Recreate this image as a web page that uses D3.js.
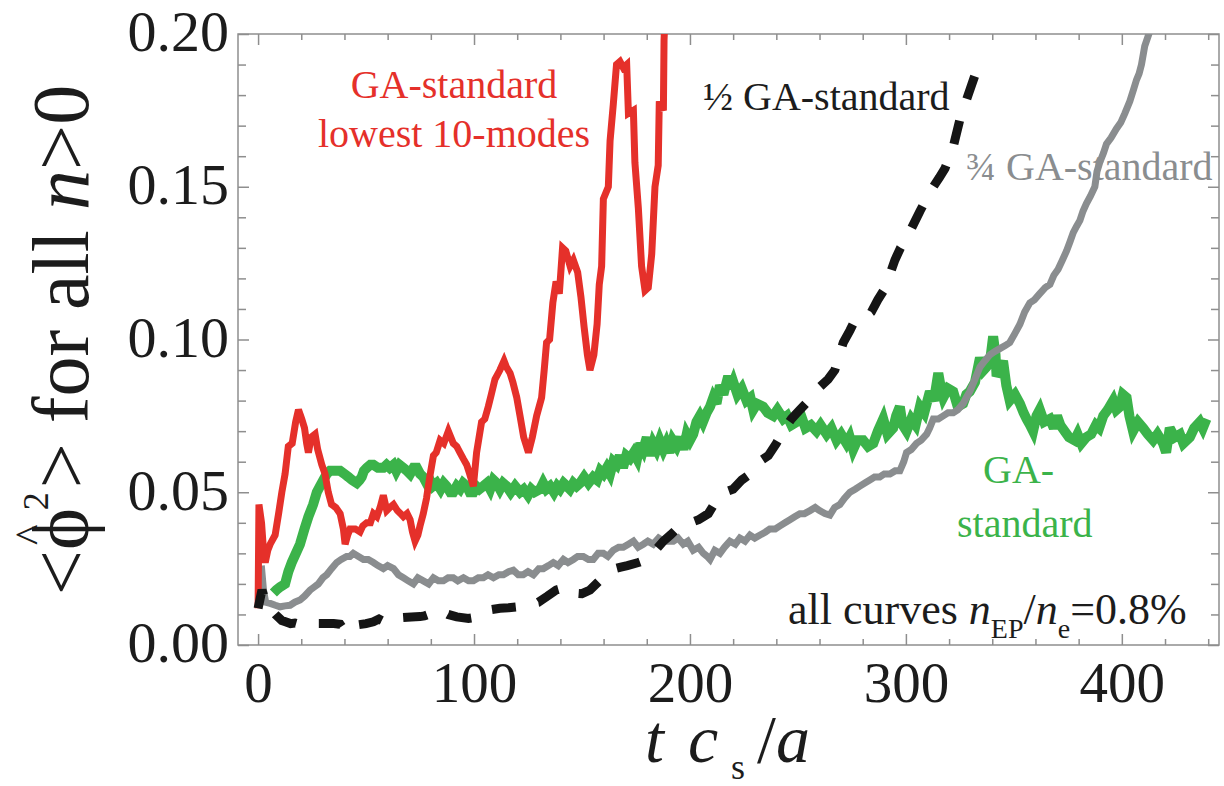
<!DOCTYPE html>
<html>
<head>
<meta charset="utf-8">
<script src="https://cdn.jsdelivr.net/npm/d3@7"></script>
<style>
  html, body { margin: 0; padding: 0; background: #ffffff; }
  svg { display: block; }
  text { font-family: "Liberation Serif", "Times New Roman", serif; }
</style>
</head>
<body>
<svg id="chart" width="1224" height="786"></svg>
<script>
// Time axis (t c_s/a) and amplitude axis (<phi^2>) tick values
const xMajorTicks = [0, 100, 200, 300, 400];
const yMajorTicks = [0, 0.05, 0.10, 0.15, 0.20];

// GA-standard, lowest 10 modes only  [t, <phi^2>]
const redCurve = [
  [0, 0.012], [0.4, 0.046], [1.6, 0.040], [2.6, 0.030], [3.3, 0.027], [4.5, 0.031], [5.6, 0.033],
  [7.9, 0.036], [9.5, 0.043], [11, 0.050], [12.5, 0.056], [14, 0.065], [15.8, 0.066], [17.4, 0.073],
  [18.7, 0.077], [20.2, 0.074], [21.5, 0.071], [22.5, 0.066], [23.3, 0.063], [24.6, 0.068], [26.4, 0.069],
  [27.6, 0.064], [29.5, 0.059], [31, 0.056], [32.5, 0.050], [34, 0.046], [36, 0.045], [38, 0.043],
  [39.5, 0.038], [40.3, 0.033], [41.5, 0.036], [42.6, 0.038], [45, 0.038], [47.2, 0.037], [48.5, 0.039],
  [50.3, 0.040], [52, 0.040], [53.4, 0.043], [55, 0.042], [56.5, 0.045], [58, 0.049], [59.6, 0.044],
  [61, 0.045], [62.7, 0.046], [64.5, 0.044], [66, 0.043], [67.3, 0.042], [69, 0.043], [70.4, 0.041],
  [71.5, 0.037], [72.7, 0.034], [74, 0.036], [75, 0.039], [76.5, 0.043], [78, 0.048], [79.5, 0.055],
  [81.2, 0.062], [82.5, 0.063], [84.3, 0.067], [86, 0.066], [88.1, 0.070], [90.4, 0.066], [92, 0.065],
  [93.5, 0.063], [95, 0.061], [96.6, 0.059], [98, 0.056], [99.7, 0.052], [101.2, 0.063], [103.5, 0.073],
  [105, 0.074], [106.6, 0.078], [108, 0.082], [109.7, 0.087], [112, 0.090], [113.9, 0.093], [115, 0.091],
  [116.7, 0.089], [118, 0.086], [119.8, 0.081], [121.3, 0.075], [123, 0.068], [125.2, 0.063], [127, 0.068],
  [129, 0.075], [131.3, 0.081], [132.5, 0.090], [133.6, 0.099], [135, 0.100], [136.5, 0.112], [138, 0.119],
  [139.5, 0.115], [141, 0.130], [142.5, 0.129], [144.5, 0.124], [146, 0.126], [148, 0.122], [149.5, 0.114],
  [151, 0.104], [152.5, 0.095], [153.7, 0.090], [155.5, 0.095], [157, 0.105], [158, 0.118], [159.1, 0.124],
  [159.9, 0.146], [162.2, 0.150], [163, 0.165], [164.5, 0.177], [166, 0.190], [167.6, 0.191], [169.1, 0.189],
  [170.7, 0.190], [171.5, 0.174], [173.8, 0.175], [174.5, 0.158], [176.1, 0.143], [177.6, 0.124], [179.2, 0.116],
  [180.7, 0.117], [182.3, 0.128], [183.8, 0.150], [185.3, 0.157], [185.8, 0.178], [187.7, 0.175], [188, 0.198],
  [189, 0.215]
];

// GA-standard, all modes
const greenCurve = [
  [7.1, 0.017], [8.5, 0.018], [10.2, 0.019], [12.5, 0.020], [14, 0.024], [15.6, 0.027], [17.5, 0.030],
  [19.4, 0.033], [21.5, 0.038], [23.3, 0.042], [25.5, 0.046], [27.2, 0.050], [28.7, 0.052], [30.2, 0.054],
  [31.8, 0.056], [33.3, 0.057], [35.5, 0.057], [38, 0.057], [40, 0.056], [41.8, 0.055], [43.5, 0.054],
  [45.7, 0.053], [47, 0.054], [48, 0.055], [49, 0.057], [50.3, 0.058], [52, 0.059], [53.4, 0.059],
  [55.5, 0.058], [58, 0.058], [59.5, 0.059], [61, 0.058], [62.7, 0.059], [64, 0.057], [65.5, 0.059],
  [67.3, 0.058], [69, 0.057], [70.4, 0.056], [72, 0.058], [73.5, 0.058], [75, 0.056], [76.5, 0.055],
  [78, 0.053], [79.6, 0.054], [81, 0.052], [82.7, 0.053], [84.5, 0.051], [86, 0.053], [87.3, 0.052],
  [89, 0.050], [90.4, 0.050], [92, 0.052], [93.5, 0.051], [95, 0.053], [96.6, 0.052], [98, 0.050],
  [99.7, 0.050], [101, 0.052], [102.5, 0.051], [104.3, 0.052], [106, 0.053], [107.5, 0.051], [109, 0.054],
  [110.5, 0.053], [112, 0.051], [113.5, 0.053], [115.1, 0.052], [117, 0.050], [119, 0.052], [121.3, 0.050],
  [123, 0.051], [125, 0.049], [126.5, 0.051], [128, 0.050], [130.6, 0.051], [132, 0.053], [133.5, 0.051],
  [135.2, 0.052], [137, 0.050], [138.5, 0.052], [139.8, 0.051], [141.5, 0.053], [143, 0.052], [144.4, 0.051],
  [146, 0.053], [147.5, 0.052], [149.1, 0.053], [151, 0.055], [153, 0.053], [155.2, 0.055], [157, 0.054],
  [158.5, 0.057], [159.9, 0.056], [161.5, 0.058], [163, 0.056], [164.5, 0.060], [166, 0.059], [167.5, 0.062],
  [169, 0.058], [170.5, 0.062], [172.2, 0.061], [174, 0.063], [175.5, 0.061], [177, 0.066], [178.4, 0.064],
  [180, 0.068], [181.5, 0.062], [183, 0.066], [184.5, 0.064], [186, 0.067], [187.7, 0.064], [189, 0.066],
  [190.5, 0.063], [192, 0.067], [193.8, 0.065], [195.5, 0.068], [197, 0.064], [198.5, 0.069], [200, 0.067],
  [201.5, 0.069], [203, 0.073], [204.6, 0.075], [206, 0.073], [207.7, 0.076], [209.3, 0.078], [210.8, 0.081],
  [212.3, 0.079], [213.9, 0.085], [215.5, 0.082], [217.7, 0.088], [219, 0.084], [220.1, 0.086], [222, 0.082],
  [224, 0.084], [226.2, 0.080], [228, 0.081], [229.3, 0.077], [231, 0.079], [233.9, 0.078], [236, 0.076],
  [238.6, 0.075], [240.5, 0.077], [243.2, 0.074], [245, 0.075], [247, 0.072], [249.4, 0.073], [251.5, 0.075],
  [253.5, 0.071], [256, 0.072], [258.6, 0.070], [260.5, 0.072], [263.3, 0.069], [265.5, 0.071], [267.9, 0.067],
  [270, 0.069], [272.5, 0.066], [274, 0.068], [275.6, 0.064], [277.5, 0.067], [280.2, 0.067], [282.5, 0.065],
  [284.9, 0.066], [287, 0.070], [289.5, 0.074], [291.5, 0.069], [294.1, 0.071], [295.5, 0.075], [297.2, 0.078],
  [298.5, 0.072], [300.3, 0.070], [302.5, 0.074], [304.5, 0.072], [306.5, 0.078], [308.5, 0.076], [311.1, 0.083],
  [313, 0.080], [315, 0.089], [316.5, 0.083], [317.3, 0.081], [319.5, 0.084], [321.9, 0.083], [324, 0.078],
  [326.5, 0.079], [328, 0.082], [329.6, 0.083], [332, 0.086], [334.3, 0.094], [336, 0.090], [337.3, 0.091],
  [339, 0.093], [340.4, 0.101], [341.5, 0.095], [342, 0.088], [343.5, 0.090], [345, 0.093], [346.5, 0.085],
  [348.1, 0.080], [350.5, 0.082], [352.8, 0.079], [354.5, 0.076], [355.9, 0.074], [357.5, 0.072], [358.9, 0.070],
  [360.5, 0.075], [362, 0.077], [364, 0.073], [366.7, 0.074], [368.5, 0.071], [370, 0.075], [371.5, 0.072],
  [373.5, 0.070], [375.5, 0.068], [378.1, 0.067], [379.5, 0.069], [381.2, 0.066], [383.5, 0.068], [385.8, 0.069],
  [388, 0.072], [389.5, 0.071], [391.4, 0.075], [393.5, 0.077], [396, 0.080], [397.5, 0.077], [399.1, 0.078],
  [400.5, 0.082], [402.2, 0.081], [403.5, 0.075], [405.2, 0.070], [407.5, 0.073], [409.9, 0.071], [412, 0.069],
  [414.5, 0.067], [416.5, 0.069], [419.1, 0.066], [420.5, 0.063], [422.2, 0.071], [424.5, 0.068], [426.9, 0.069],
  [428.5, 0.066], [431.5, 0.068], [433.5, 0.071], [436.1, 0.073], [437.5, 0.071], [439.2, 0.074]
];

// 3/4 GA-standard
const grayCurve = [
  [1.5, 0.026], [2.5, 0.018], [3.5, 0.014], [5.6, 0.0136], [8, 0.013], [10.2, 0.0125], [12.5, 0.0128],
  [14.8, 0.013], [17, 0.014], [19.4, 0.0147], [21.5, 0.016], [24.1, 0.018], [26, 0.019], [27.9, 0.020],
  [30, 0.022], [31.8, 0.023], [34, 0.025], [36.4, 0.027], [38.5, 0.028], [41, 0.029], [42.5, 0.029],
  [44.1, 0.030], [46.5, 0.029], [48.8, 0.028], [51, 0.028], [53.4, 0.027], [55.5, 0.026], [58, 0.025],
  [60, 0.026], [62.7, 0.025], [65, 0.023], [67.3, 0.022], [69.5, 0.021], [71.9, 0.020], [74, 0.022],
  [76.5, 0.021], [79, 0.020], [81.2, 0.022], [83.5, 0.021], [85.8, 0.021], [88, 0.022], [90.4, 0.022],
  [92.5, 0.021], [95.1, 0.022], [97.5, 0.021], [99.7, 0.021], [102, 0.022], [104.3, 0.022], [106.5, 0.023],
  [109, 0.022], [111.5, 0.023], [113.6, 0.023], [116, 0.024], [118.2, 0.0245], [120.5, 0.023], [122.8, 0.023],
  [125, 0.024], [127.5, 0.023], [130, 0.025], [132.1, 0.025], [134.5, 0.026], [136.7, 0.027], [139, 0.026],
  [141.4, 0.028], [143.5, 0.027], [146, 0.028], [148, 0.029], [150.6, 0.029], [153, 0.028], [155.2, 0.028],
  [157.5, 0.030], [159.9, 0.030], [162, 0.029], [164.5, 0.031], [167, 0.032], [169.1, 0.032], [171.5, 0.033],
  [173.8, 0.034], [176, 0.032], [178.4, 0.033], [180.5, 0.034], [183, 0.033], [185.5, 0.035], [187.7, 0.034],
  [190, 0.034], [192.3, 0.034], [194.5, 0.035], [196.9, 0.033], [199, 0.034], [201.5, 0.031], [204, 0.032],
  [206.2, 0.030], [208, 0.029], [209.3, 0.028], [211.5, 0.031], [213.9, 0.030], [216, 0.032], [218.5, 0.034],
  [221, 0.033], [223.1, 0.035], [225.5, 0.034], [227.8, 0.036], [230, 0.035], [232.5, 0.036], [235, 0.037],
  [237, 0.038], [239.5, 0.038], [241.7, 0.039], [244, 0.040], [246.3, 0.041], [248.5, 0.042], [250.9, 0.043],
  [253, 0.043], [255.6, 0.044], [258, 0.045], [260, 0.044], [262.5, 0.043], [264.8, 0.0425], [267, 0.045],
  [269.4, 0.046], [271.5, 0.048], [274.1, 0.050], [276.5, 0.051], [278.7, 0.052], [281, 0.053], [283.3, 0.054],
  [285.5, 0.055], [287.9, 0.055], [290, 0.056], [292.6, 0.056], [295, 0.057], [297.2, 0.057], [299, 0.060],
  [300.3, 0.063], [302.5, 0.064], [304.9, 0.066], [307, 0.067], [309.6, 0.069], [311, 0.071], [312.7, 0.074],
  [315, 0.074], [317.3, 0.075], [319.5, 0.076], [321.9, 0.076], [324, 0.077], [326.5, 0.079], [328, 0.081],
  [329.6, 0.083], [332, 0.087], [334.3, 0.091], [336.5, 0.093], [338.9, 0.095], [341, 0.096], [343.5, 0.097],
  [346, 0.098], [348.1, 0.099], [350.5, 0.102], [352.8, 0.105], [355, 0.109], [357.4, 0.112], [359.5, 0.113],
  [362, 0.115], [364.5, 0.117], [366.7, 0.118], [368.5, 0.121], [370.5, 0.123], [372.5, 0.126], [374.4, 0.129],
  [376, 0.132], [377.5, 0.135], [379, 0.137], [380.6, 0.139], [382, 0.142], [383.6, 0.1445], [385.5, 0.147],
  [387.5, 0.150], [388.5, 0.155], [389.8, 0.158], [391.5, 0.161], [392.9, 0.164], [395, 0.166], [397.5, 0.169],
  [399.5, 0.171], [401.4, 0.174], [403.7, 0.178], [405.5, 0.182], [406.8, 0.185], [408, 0.187], [409.1, 0.190],
  [410.6, 0.196], [413, 0.201], [415, 0.206]
];

// 1/2 GA-standard (dashed)
const blackCurve = [
  [0, 0.012], [1.8, 0.018], [3.5, 0.014], [5.5, 0.012], [8, 0.010], [11, 0.008], [13, 0.0075], [15, 0.007],
  [17, 0.0072], [19, 0.0068], [21.8, 0.0065], [25, 0.0065], [28, 0.007], [32.6, 0.007], [35, 0.007],
  [38, 0.0068], [40.3, 0.0044], [41.8, 0.006], [45, 0.0065], [50, 0.007], [53.4, 0.0076], [56, 0.0085],
  [58, 0.0078], [60, 0.009], [62.7, 0.0093], [67, 0.009], [71, 0.0092], [75, 0.0093], [77, 0.0095],
  [79, 0.010], [81, 0.0105], [84.3, 0.0115], [88, 0.010], [92, 0.0092], [97.4, 0.0087], [100, 0.009],
  [103, 0.0098], [105, 0.010], [107.4, 0.0115], [112, 0.012], [116, 0.0122], [119.8, 0.0125], [123, 0.0128],
  [126, 0.0135], [129.8, 0.014], [134, 0.016], [138, 0.018], [142.9, 0.019], [146, 0.017], [150, 0.0168],
  [153.7, 0.018], [158, 0.021], [162, 0.023], [165.3, 0.025], [168, 0.0255], [171, 0.026], [176.1, 0.027],
  [180, 0.028], [184, 0.031], [187.7, 0.034], [191, 0.036], [195.4, 0.039], [200, 0.040], [204, 0.041],
  [208.5, 0.043], [212, 0.047], [216, 0.050], [220, 0.051], [224, 0.054], [228, 0.056], [232, 0.060],
  [236.3, 0.062], [240, 0.066], [244, 0.071], [247, 0.074], [250.9, 0.077], [255, 0.080], [260.2, 0.0845],
  [264, 0.087], [267.1, 0.090], [271, 0.099], [274.1, 0.103], [276.2, 0.106], [280, 0.107], [284, 0.109],
  [287, 0.113], [290.3, 0.1167], [294.9, 0.126], [297.5, 0.130], [300.3, 0.133], [303, 0.137], [306.5, 0.142],
  [309.5, 0.146], [312.7, 0.150], [315.5, 0.153], [318.1, 0.156], [321.9, 0.163], [325, 0.172], [328.8, 0.180],
  [332.7, 0.188], [335.8, 0.192]
];

const svg = d3.select("#chart");
const frame = { left: 238, right: 1219, top: 34, bottom: 645 };
const axisGray = "#8e8e8e";
const inkBlack = "#1c1c1c";
const redInk = "#e5302a", greenInk = "#3bb34a", grayInk = "#8a8d8f";

const x = d3.scaleLinear().domain([-9.3, 445]).range([frame.left, frame.right]);
const y = d3.scaleLinear().domain([0, 0.2]).range([frame.bottom, frame.top]);

const xMinor = d3.range(0, 441, 20).filter(v => v % 100 !== 0);
const yMinor = d3.range(1, 20).filter(i => i % 5 !== 0).map(i => i / 100);

function tidy(g) {
  g.select(".domain").remove();
  g.selectAll(".tick line").attr("stroke", axisGray).attr("stroke-width", 1.5);
}

// bottom axis with labels, plus inward ticks on all four sides
svg.append("g")
  .attr("transform", `translate(0,${frame.bottom})`)
  .call(d3.axisBottom(x).tickValues(xMajorTicks).tickSize(-11).tickPadding(17).tickFormat(d3.format("d")))
  .call(tidy)
  .call(g => g.selectAll("text").attr("font-family", "Liberation Serif, serif").attr("font-size", 57).attr("fill", inkBlack));
svg.append("g")
  .attr("transform", `translate(0,${frame.bottom})`)
  .call(d3.axisBottom(x).tickValues(xMinor).tickSize(-6).tickFormat(""))
  .call(tidy);
svg.append("g")
  .attr("transform", `translate(0,${frame.top})`)
  .call(d3.axisTop(x).tickValues(xMajorTicks).tickSize(-11).tickFormat(""))
  .call(tidy);
svg.append("g")
  .attr("transform", `translate(0,${frame.top})`)
  .call(d3.axisTop(x).tickValues(xMinor).tickSize(-6).tickFormat(""))
  .call(tidy);

svg.append("g")
  .attr("transform", `translate(${frame.left},0)`)
  .call(d3.axisLeft(y).tickValues(yMajorTicks).tickSize(-11).tickPadding(9).tickFormat(d3.format(".2f")))
  .call(tidy)
  .call(g => g.selectAll("text").attr("font-family", "Liberation Serif, serif").attr("font-size", 58)
    .attr("fill", inkBlack).attr("dy", "0.29em"));
svg.append("g")
  .attr("transform", `translate(${frame.left},0)`)
  .call(d3.axisLeft(y).tickValues(yMinor).tickSize(-8).tickFormat(""))
  .call(tidy);
svg.append("g")
  .attr("transform", `translate(${frame.right},0)`)
  .call(d3.axisRight(y).tickValues(yMajorTicks).tickSize(-11).tickFormat(""))
  .call(tidy);
svg.append("g")
  .attr("transform", `translate(${frame.right},0)`)
  .call(d3.axisRight(y).tickValues(yMinor).tickSize(-8).tickFormat(""))
  .call(tidy);

// plot frame
svg.append("rect")
  .attr("x", frame.left).attr("y", frame.top)
  .attr("width", frame.right - frame.left).attr("height", frame.bottom - frame.top)
  .attr("fill", "none").attr("stroke", axisGray).attr("stroke-width", 1.5);

svg.append("clipPath").attr("id", "plotClip")
  .append("rect")
  .attr("x", frame.left).attr("y", frame.top)
  .attr("width", frame.right - frame.left).attr("height", frame.bottom - frame.top);

const line = d3.line().x(d => x(d[0])).y(d => y(d[1]));
const curves = svg.append("g").attr("clip-path", "url(#plotClip)")
  .attr("fill", "none").attr("stroke-linejoin", "miter").attr("stroke-miterlimit", 3);

curves.append("path").datum(greenCurve).attr("d", line)
  .attr("stroke", greenInk).attr("stroke-width", 10);
curves.append("path").datum(grayCurve).attr("d", line)
  .attr("stroke", grayInk).attr("stroke-width", 7);
curves.append("path").datum(redCurve).attr("d", line)
  .attr("stroke", redInk).attr("stroke-width", 7);
curves.append("path").datum(blackCurve).attr("d", line)
  .attr("stroke", "#151515").attr("stroke-width", 9).attr("stroke-dasharray", "24,23");

// curve labels
const labels = svg.append("g").attr("font-size", 40);
labels.append("text").attr("x", 454).attr("y", 98).attr("text-anchor", "middle")
  .attr("fill", redInk).text("GA-standard");
labels.append("text").attr("x", 454).attr("y", 147).attr("text-anchor", "middle")
  .attr("fill", redInk).text("lowest 10-modes");
labels.append("text").attr("x", 703).attr("y", 110).attr("fill", inkBlack).text("½ GA-standard");
labels.append("text").attr("x", 966).attr("y", 180).attr("fill", grayInk).text("¾ GA-standard");
labels.append("text").attr("x", 983).attr("y", 483).attr("fill", greenInk).text("GA-");
labels.append("text").attr("x", 957).attr("y", 537).attr("fill", greenInk).text("standard");

const note = svg.append("text").attr("x", 788).attr("y", 624).attr("font-size", 44).attr("fill", inkBlack);
note.append("tspan").text("all curves ");
note.append("tspan").attr("font-style", "italic").text("n");
note.append("tspan").attr("font-size", 28).attr("dy", 14).text("EP");
note.append("tspan").attr("dy", -14).text("/");
note.append("tspan").attr("font-style", "italic").text("n");
note.append("tspan").attr("font-size", 28).attr("dy", 14).text("e");
note.append("tspan").attr("dy", -14).text("=0.8%");

// x-axis title: t c_s / a
const xTitle = svg.append("text").attr("y", 762).attr("font-size", 68).attr("fill", inkBlack);
xTitle.append("tspan").attr("x", 645).attr("font-style", "italic").text("t");
xTitle.append("tspan").attr("x", 688).attr("font-style", "italic").text("c");
xTitle.append("tspan").attr("x", 731).attr("font-size", 36).attr("dy", 17).text("s");
xTitle.append("tspan").attr("x", 757).attr("dy", -17).text("/");
xTitle.append("tspan").attr("font-style", "italic").text("a");

// y-axis title: <phi-hat^2> for all n>0
const yTitle = svg.append("text")
  .attr("transform", "translate(88,340) rotate(-90)")
  .attr("text-anchor", "middle").attr("font-size", 80).attr("fill", inkBlack);
yTitle.append("tspan").text("<");
yTitle.append("tspan").text("\u03D5");
yTitle.append("tspan").attr("font-size", 44).attr("dx", -37).attr("dy", -43).text("^");
yTitle.append("tspan").attr("font-size", 36).attr("dx", 14).attr("dy", 3).text("2");
yTitle.append("tspan").attr("dx", 4).attr("dy", 40).text("> for all ");
yTitle.append("tspan").attr("font-style", "italic").text("n");
yTitle.append("tspan").text(">0");
</script>
</body>
</html>
